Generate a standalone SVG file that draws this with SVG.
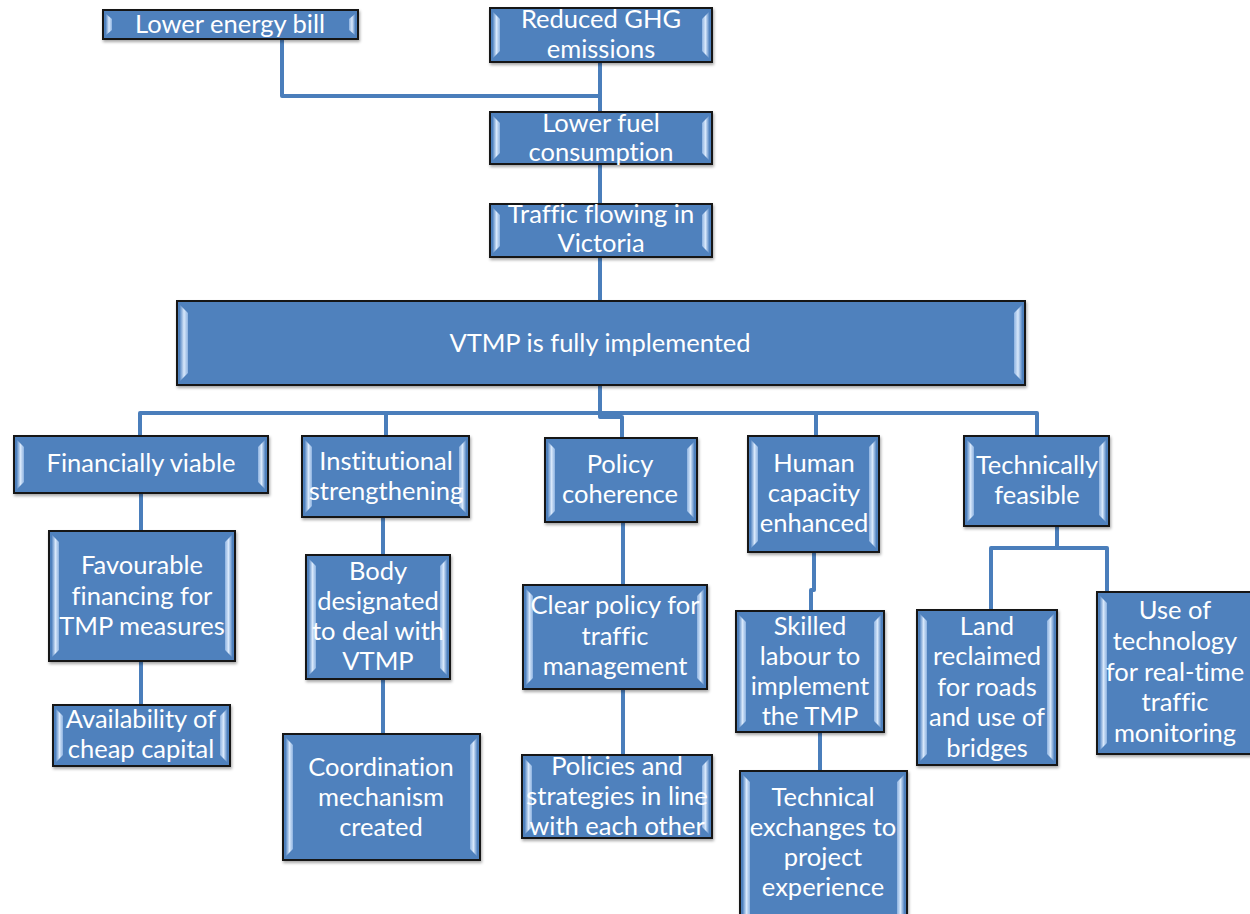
<svg xmlns="http://www.w3.org/2000/svg" width="1250" height="914" viewBox="0 0 1250 914">
  <defs>
    <style>
      .box { fill: #4F81BD; stroke: #151515; stroke-width: 2; filter: url(#shadow); }
      .bevL { fill: url(#bevelL); }
      .bevR { fill: url(#bevelR); }
      .lbl { font-family: Lato, "Liberation Sans", sans-serif; font-size: 25.5px; fill: #ffffff; text-anchor: middle; font-variant-ligatures: none; }
      .conn { fill: none; stroke: #4A7EBB; stroke-width: 4; stroke-linejoin: round; }
    </style>
    <filter id="shadow" x="-10%" y="-10%" width="120%" height="130%">
      <feDropShadow dx="1" dy="2" stdDeviation="1.5" flood-color="#000000" flood-opacity="0.35"/>
    </filter>
    <linearGradient id="bevelL" x1="0" y1="0" x2="1" y2="0">
      <stop offset="0" stop-color="#5d8cc6"/>
      <stop offset="0.5" stop-color="#d8e8fb"/>
      <stop offset="1" stop-color="#8db2e0"/>
    </linearGradient>
    <linearGradient id="bevelR" x1="1" y1="0" x2="0" y2="0">
      <stop offset="0" stop-color="#5d8cc6"/>
      <stop offset="0.5" stop-color="#d8e8fb"/>
      <stop offset="1" stop-color="#8db2e0"/>
    </linearGradient>
  </defs>

  <rect width="1250" height="914" fill="#ffffff"/>

  <!-- connectors -->
  <g id="connectors">
    <path class="conn" d="M282,39 V96 H600"/>
    <path class="conn" d="M600,62 V112"/>
    <path class="conn" d="M600,164 V204"/>
    <path class="conn" d="M600,257 V301"/>
    <path class="conn" d="M600,385 V413"/>
    <path class="conn" d="M140,436 V413 H1037 V436"/>
    <path class="conn" d="M386,413 V436"/>
    <path class="conn" d="M600,413 V417 H622 V438"/>
    <path class="conn" d="M816,413 V436"/>
    <path class="conn" d="M141,493 V531"/>
    <path class="conn" d="M141,661 V705"/>
    <path class="conn" d="M383,517 V555"/>
    <path class="conn" d="M383,679 V734"/>
    <path class="conn" d="M623,522 V585"/>
    <path class="conn" d="M623,689 V755"/>
    <path class="conn" d="M814,552 V590 H811 V611"/>
    <path class="conn" d="M820,732 V771"/>
    <path class="conn" d="M1057,526 V548 H991 V610"/>
    <path class="conn" d="M1057,548 H1107 V592"/>
  </g>

  <!-- top chain -->
  <g id="energy-bill">
    <rect class="box" x="103" y="10" width="255" height="29"/>
    <polygon class="bevL" points="106,14 112,19 112,30 106,35"/>
    <polygon class="bevR" points="355,14 349,19 349,30 355,35"/>
    <text class="lbl" x="230" y="33">Lower energy bill</text>
  </g>
  <g id="ghg">
    <rect class="box" x="490" y="8" width="222" height="54"/>
    <polygon class="bevL" points="493,12 500,19 500,51 493,58"/>
    <polygon class="bevR" points="709,12 702,19 702,51 709,58"/>
    <text class="lbl" x="601" y="28">Reduced GHG</text>
    <text class="lbl" x="601" y="58">emissions</text>
  </g>
  <g id="fuel">
    <rect class="box" x="490" y="112" width="222" height="52"/>
    <polygon class="bevL" points="493,116 500,123 500,153 493,160"/>
    <polygon class="bevR" points="709,116 702,123 702,153 709,160"/>
    <text class="lbl" x="601" y="132">Lower fuel</text>
    <text class="lbl" x="601" y="161">consumption</text>
  </g>
  <g id="traffic">
    <rect class="box" x="490" y="204" width="222" height="53"/>
    <polygon class="bevL" points="493,208 500,215 500,246 493,253"/>
    <polygon class="bevR" points="709,208 702,215 702,246 709,253"/>
    <text class="lbl" x="601" y="223">Traffic flowing in</text>
    <text class="lbl" x="601" y="252">Victoria</text>
  </g>
  <g id="vtmp">
    <rect class="box" x="177" y="301" width="848" height="84"/>
    <polygon class="bevL" points="180,305 188,313 188,373 180,381"/>
    <polygon class="bevR" points="1022,305 1014,313 1014,373 1022,381"/>
    <text class="lbl" x="600" y="352">VTMP is fully implemented</text>
  </g>

  <!-- second tier -->
  <g id="financially-viable">
    <rect class="box" x="14" y="436" width="254" height="57"/>
    <polygon class="bevL" points="17,440 24,447 24,482 17,489"/>
    <polygon class="bevR" points="265,440 258,447 258,482 265,489"/>
    <text class="lbl" x="141" y="472">Financially viable</text>
  </g>
  <g id="institutional">
    <rect class="box" x="302" y="436" width="167" height="81"/>
    <polygon class="bevL" points="305,440 312,447 312,506 305,513"/>
    <polygon class="bevR" points="466,440 459,447 459,506 466,513"/>
    <text class="lbl" x="386" y="470">Institutional</text>
    <text class="lbl" x="386" y="500">strengthening</text>
  </g>
  <g id="policy-coherence">
    <rect class="box" x="545" y="438" width="152" height="84"/>
    <polygon class="bevL" points="548,442 555,449 555,511 548,518"/>
    <polygon class="bevR" points="694,442 687,449 687,511 694,518"/>
    <text class="lbl" x="620" y="473">Policy</text>
    <text class="lbl" x="620" y="503">coherence</text>
  </g>
  <g id="human-capacity">
    <rect class="box" x="748" y="436" width="131" height="116"/>
    <polygon class="bevL" points="751,440 758,447 758,541 751,548"/>
    <polygon class="bevR" points="876,440 869,447 869,541 876,548"/>
    <text class="lbl" x="814" y="472">Human</text>
    <text class="lbl" x="814" y="502">capacity</text>
    <text class="lbl" x="814" y="532">enhanced</text>
  </g>
  <g id="technically-feasible">
    <rect class="box" x="964" y="436" width="145" height="90"/>
    <polygon class="bevL" points="967,440 974,447 974,515 967,522"/>
    <polygon class="bevR" points="1106,440 1099,447 1099,515 1106,522"/>
    <text class="lbl" x="1037" y="474">Technically</text>
    <text class="lbl" x="1037" y="504">feasible</text>
  </g>

  <!-- third tier -->
  <g id="favourable-financing">
    <rect class="box" x="49" y="531" width="186" height="130"/>
    <polygon class="bevL" points="52,535 59,542 59,650 52,657"/>
    <polygon class="bevR" points="232,535 225,542 225,650 232,657"/>
    <text class="lbl" x="142" y="574">Favourable</text>
    <text class="lbl" x="142" y="605">financing for</text>
    <text class="lbl" x="142" y="635">TMP measures</text>
  </g>
  <g id="cheap-capital">
    <rect class="box" x="53" y="705" width="177" height="61"/>
    <polygon class="bevL" points="56,709 63,716 63,755 56,762"/>
    <polygon class="bevR" points="227,709 220,716 220,755 227,762"/>
    <text class="lbl" x="141" y="728">Availability of</text>
    <text class="lbl" x="141" y="758">cheap capital</text>
  </g>
  <g id="body-designated">
    <rect class="box" x="306" y="555" width="144" height="124"/>
    <polygon class="bevL" points="309,559 316,566 316,668 309,675"/>
    <polygon class="bevR" points="447,559 440,566 440,668 447,675"/>
    <text class="lbl" x="378" y="580">Body</text>
    <text class="lbl" x="378" y="610">designated</text>
    <text class="lbl" x="378" y="640">to deal with</text>
    <text class="lbl" x="378" y="670">VTMP</text>
  </g>
  <g id="coordination">
    <rect class="box" x="283" y="734" width="197" height="126"/>
    <polygon class="bevL" points="286,738 293,745 293,849 286,856"/>
    <polygon class="bevR" points="477,738 470,745 470,849 477,856"/>
    <text class="lbl" x="381" y="776">Coordination</text>
    <text class="lbl" x="381" y="806">mechanism</text>
    <text class="lbl" x="381" y="836">created</text>
  </g>
  <g id="clear-policy">
    <rect class="box" x="523" y="585" width="184" height="104"/>
    <polygon class="bevL" points="526,589 533,596 533,678 526,685"/>
    <polygon class="bevR" points="704,589 697,596 697,678 704,685"/>
    <text class="lbl" x="615" y="614">Clear policy for</text>
    <text class="lbl" x="615" y="645">traffic</text>
    <text class="lbl" x="615" y="675">management</text>
  </g>
  <g id="policies-strategies">
    <rect class="box" x="522" y="755" width="190" height="83"/>
    <polygon class="bevL" points="525,759 532,766 532,827 525,834"/>
    <polygon class="bevR" points="709,759 702,766 702,827 709,834"/>
    <text class="lbl" x="617" y="775">Policies and</text>
    <text class="lbl" x="617" y="805">strategies in line</text>
    <text class="lbl" x="617" y="835">with each other</text>
  </g>
  <g id="skilled-labour">
    <rect class="box" x="736" y="611" width="148" height="121"/>
    <polygon class="bevL" points="739,615 746,622 746,721 739,728"/>
    <polygon class="bevR" points="881,615 874,622 874,721 881,728"/>
    <text class="lbl" x="810" y="635">Skilled</text>
    <text class="lbl" x="810" y="665">labour to</text>
    <text class="lbl" x="810" y="695">implement</text>
    <text class="lbl" x="810" y="725">the TMP</text>
  </g>
  <g id="technical-exchanges">
    <rect class="box" x="740" y="771" width="167" height="150"/>
    <polygon class="bevL" points="743,775 750,782 750,914 743,914"/>
    <polygon class="bevR" points="904,775 897,782 897,914 904,914"/>
    <text class="lbl" x="823" y="806">Technical</text>
    <text class="lbl" x="823" y="836">exchanges to</text>
    <text class="lbl" x="823" y="866">project</text>
    <text class="lbl" x="823" y="896">experience</text>
  </g>
  <g id="land-reclaimed">
    <rect class="box" x="917" y="610" width="140" height="155"/>
    <polygon class="bevL" points="920,614 927,621 927,754 920,761"/>
    <polygon class="bevR" points="1054,614 1047,621 1047,754 1054,761"/>
    <text class="lbl" x="987" y="635">Land</text>
    <text class="lbl" x="987" y="665">reclaimed</text>
    <text class="lbl" x="987" y="696">for roads</text>
    <text class="lbl" x="987" y="726">and use of</text>
    <text class="lbl" x="987" y="757">bridges</text>
  </g>
  <g id="real-time-monitoring">
    <rect class="box" x="1097" y="592" width="160" height="162"/>
    <polygon class="bevL" points="1100,596 1107,603 1107,743 1100,750"/>
    <text class="lbl" x="1175" y="619">Use of</text>
    <text class="lbl" x="1175" y="650">technology</text>
    <text class="lbl" x="1175" y="681">for real-time</text>
    <text class="lbl" x="1175" y="711">traffic</text>
    <text class="lbl" x="1175" y="742">monitoring</text>
  </g>
</svg>
